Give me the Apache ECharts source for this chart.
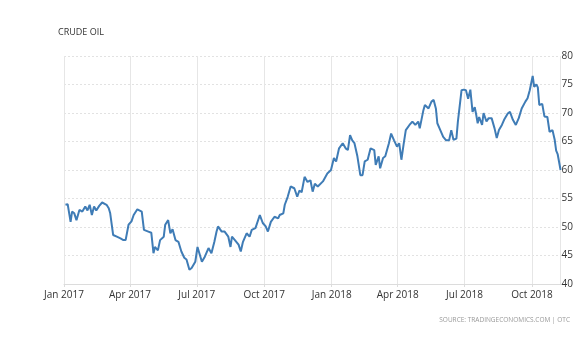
<!DOCTYPE html>
<html>
<head>
<meta charset="utf-8">
<script src="https://cdn.jsdelivr.net/npm/echarts@6/dist/echarts.min.js"></script>
<style>html,body{margin:0;padding:0;background:#fff}#c{width:576px;height:359px}</style>
</head>
<body>
<div id="c"></div>
<script>
const titleText = 'CRUDE OIL';
const sourceText = 'SOURCE: TRADINGECONOMICS.COM | OTC';
const monthNames = ['Jan','Feb','Mar','Apr','May','Jun','Jul','Aug','Sep','Oct','Nov','Dec'];
const yTicks = [40, 45, 50, 55, 60, 65, 70, 75, 80];
const dates = [
'2017-01-03','2017-01-04','2017-01-06','2017-01-10','2017-01-12','2017-01-15','2017-01-18','2017-01-22','2017-01-26','2017-01-30',
'2017-02-02','2017-02-05','2017-02-08','2017-02-11','2017-02-14','2017-02-18','2017-02-22','2017-02-28','2017-03-03','2017-03-05',
'2017-03-09','2017-03-14','2017-03-19','2017-03-23','2017-03-26','2017-03-30','2017-04-03','2017-04-06','2017-04-11','2017-04-17',
'2017-04-20','2017-04-26','2017-04-30','2017-05-03','2017-05-05','2017-05-09','2017-05-12','2017-05-17','2017-05-19','2017-05-23',
'2017-05-26','2017-05-29','2017-06-02','2017-06-06','2017-06-10','2017-06-14','2017-06-17','2017-06-21','2017-06-24','2017-06-29',
'2017-07-02','2017-07-04','2017-07-08','2017-07-12','2017-07-17','2017-07-21','2017-07-25','2017-07-28','2017-07-30','2017-08-04',
'2017-08-08','2017-08-13','2017-08-16','2017-08-18','2017-08-22','2017-08-27','2017-08-30','2017-09-02','2017-09-07','2017-09-11',
'2017-09-14','2017-09-19','2017-09-25','2017-09-29','2017-10-03','2017-10-06','2017-10-10','2017-10-15','2017-10-20','2017-10-22',
'2017-10-27','2017-10-29','2017-11-02','2017-11-06','2017-11-11','2017-11-15','2017-11-18','2017-11-21','2017-11-25','2017-11-29',
'2017-12-03','2017-12-06','2017-12-09','2017-12-13','2017-12-20','2017-12-26','2017-12-31','2018-01-04','2018-01-07','2018-01-11',
'2018-01-16','2018-01-20','2018-01-23','2018-01-26','2018-01-29','2018-02-01','2018-02-05','2018-02-09','2018-02-12','2018-02-15',
'2018-02-19','2018-02-23','2018-02-28','2018-03-02','2018-03-06','2018-03-08','2018-03-12','2018-03-15','2018-03-20','2018-03-23',
'2018-03-27','2018-03-31','2018-04-03','2018-04-06','2018-04-09','2018-04-12','2018-04-17','2018-04-21','2018-04-25','2018-04-29',
'2018-05-01','2018-05-06','2018-05-08','2018-05-13','2018-05-17','2018-05-20','2018-05-23','2018-05-25','2018-05-28','2018-06-02',
'2018-06-06','2018-06-10','2018-06-13','2018-06-16','2018-06-20','2018-06-22','2018-06-27','2018-06-30','2018-07-03','2018-07-06',
'2018-07-09','2018-07-12','2018-07-15','2018-07-17','2018-07-19','2018-07-21','2018-07-25','2018-07-27','2018-07-31','2018-08-03',
'2018-08-07','2018-08-11','2018-08-14','2018-08-17','2018-08-21','2018-08-24','2018-08-29','2018-09-01','2018-09-05','2018-09-09',
'2018-09-13','2018-09-17','2018-09-22','2018-09-25','2018-09-28','2018-10-02','2018-10-04','2018-10-07','2018-10-09','2018-10-11',
'2018-10-15','2018-10-18','2018-10-22','2018-10-25','2018-10-29','2018-11-01','2018-11-03','2018-11-05','2018-11-09'
];
const prices = [
53.9,53.6,54.0,50.9,52.7,52.4,51.2,53.0,52.7,53.6,
52.9,53.9,52.1,53.6,52.9,53.7,54.3,53.9,53.3,52.4,
48.6,48.3,48.0,47.7,47.7,50.4,51.0,52.1,53.1,52.7,
49.5,49.2,49.0,45.4,46.5,45.9,47.7,48.3,50.4,51.2,
48.9,49.6,47.7,47.4,45.7,44.6,44.3,42.5,42.8,43.9,
46.5,46.8,43.9,44.8,46.3,45.4,47.4,49.2,50.1,49.2,
49.2,48.3,46.5,48.3,47.7,46.9,45.7,47.4,48.9,48.3,
49.5,49.8,52.1,50.7,50.1,49.2,50.9,51.8,51.5,52.1,
52.4,53.9,55.3,57.1,56.8,55.3,56.4,56.1,58.8,57.9,
58.2,56.2,57.6,57.1,58.0,59.4,60.0,62.1,61.5,63.8,
64.7,63.8,63.5,66.1,65.2,64.7,62.4,59.1,59.1,61.5,
61.8,63.8,63.5,60.9,62.4,60.3,62.1,62.4,64.7,66.4,
65.2,64.1,64.7,61.8,64.5,67.0,67.9,68.5,67.9,68.5,
67.3,70.5,71.4,70.8,72.0,72.3,70.8,68.2,67.3,65.8,
65.2,65.2,67.0,65.3,65.5,68.5,74.0,74.1,74.0,72.5,
74.1,70.2,71.0,69.7,68.2,69.3,67.9,70.0,68.5,69.1,
69.1,67.3,65.6,67.0,67.9,68.8,69.9,70.2,68.8,67.9,
69.1,70.8,72.0,72.6,74.0,76.5,74.6,75.0,74.5,71.4,
71.6,69.4,69.3,66.7,67.0,65.3,63.4,62.8,60.0
];
const xMin = '2017-01-01';
const xMax = '2018-11-09';
const DAY = 24 * 3600 * 1000;

const chart = echarts.init(document.getElementById('c'));
const seriesData = dates.map((d, i) => [d, prices[i]]);
chart.setOption({
  animation: false,
  backgroundColor: '#fff',
  textStyle: { fontFamily: 'Open Sans' },
  title: [
    { text: titleText, left: 58, top: 28, padding: 0, textStyle: { fontSize: 9, fontWeight: 'normal', color: '#333', fontFamily: 'Open Sans' } },
    { text: sourceText, right: 6, top: 317, padding: 0, textStyle: { fontSize: 6.5, fontWeight: 'normal', color: '#999', fontFamily: 'Open Sans' } }
  ],
  grid: { left: 64, right: 13, top: 56, bottom: 75, show: false },
  xAxis: {
    type: 'time',
    min: xMin,
    max: xMax,
    splitNumber: 7,
    minInterval: 85 * DAY,
    maxInterval: 95 * DAY,
    axisLine: { show: true, lineStyle: { color: '#dcdcdc', width: 1 } },
    axisTick: { show: true, length: 3, lineStyle: { color: '#dcdcdc' } },
    axisLabel: {
      color: '#333', fontSize: 10, margin: 6, showMinLabel: true, showMaxLabel: false, hideOverlap: false,
      formatter: function (v) { const d = new Date(v); return monthNames[d.getMonth()] + ' ' + d.getFullYear(); }
    },
    splitLine: { show: true, lineStyle: { color: '#e6e6e6', width: 1, type: 'solid' } },
    minorTick: { show: false }
  },
  yAxis: {
    type: 'value',
    position: 'right',
    min: yTicks[0],
    max: yTicks[yTicks.length - 1],
    interval: 5,
    axisLine: { show: false },
    axisTick: { show: false },
    axisLabel: { color: '#333', fontSize: 10, margin: 1 },
    splitLine: { show: true, lineStyle: { color: '#e2e2e2', width: 1, type: [2, 2] } }
  },
  series: [{
    type: 'line',
    data: seriesData,
    showSymbol: false,
    symbol: 'none',
    lineStyle: { color: '#3f7cb6', width: 2 },
    clip: false
  }]
});
</script>
</body>
</html>
